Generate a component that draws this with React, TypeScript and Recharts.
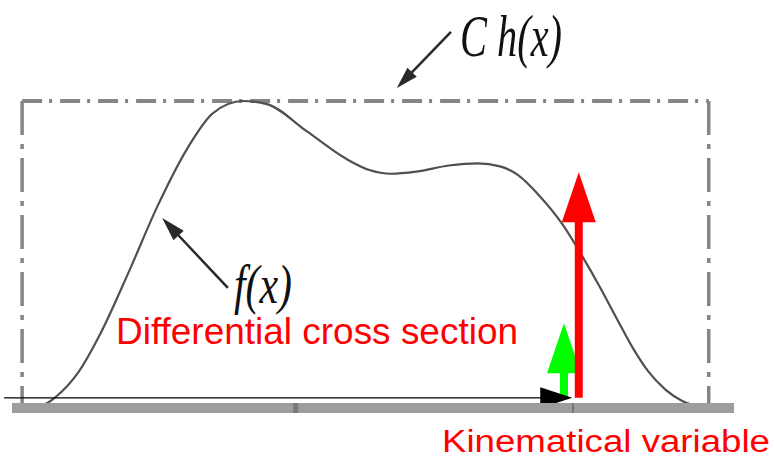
import React from "react";
import { ComposedChart, Line, XAxis, YAxis, ReferenceLine } from "recharts";

// f(x): x in % of the axis, height relative to the envelope C h(x)
const curveX = [1.5, 4.6, 6.0, 9.3, 12.2, 16.3, 20.2, 24.4, 27.8, 32.0, 35.3, 40.9, 46.4, 49.5, 52.5, 56.0, 60.5, 64.5, 67.6, 70.0, 73.1, 76.2, 79.1, 81.4, 83.9, 86.0, 88.1, 90.5, 92.9, 96.0];
const curveF = [0, 0.013, 0.035, 0.12, 0.24, 0.45, 0.66, 0.85, 0.96, 1.0, 0.99, 0.9, 0.81, 0.775, 0.763, 0.77, 0.79, 0.797, 0.787, 0.76, 0.69, 0.6, 0.49, 0.395, 0.285, 0.195, 0.12, 0.06, 0.022, 0];

// envelope C h(x): flat box
const envelopeX = [1.4, 96.5];
const envelopeC = 1;

// axis ticks
const axisTicks = [39.3, 77.7];

// sampled point: proposal (red) and accepted (green) heights
const sampleX = 78.5;
const acceptX = 76.45;
const proposalHeight = 0.768;
const acceptHeight = 0.276;
const arrowFloor = 0.033;
const kinematicArrow = [-1.1, 77.6];

// label pointers
const envelopePointer = [{ x: 60.8, y: 1.225 }, { x: 53.3, y: 1.042 }];
const curvePointer = [{ x: 29.9, y: 0.391 }, { x: 20.8, y: 0.619 }];

const data = curveX.map((x, i) => ({ x, f: curveF[i] }));

function arrow(color: string, shaft: number, headLen: number, headW: number) {
  return (p: any) => {
    const { x1, y1, x2, y2 } = p;
    if ([x1, y1, x2, y2].some((v) => typeof v !== "number" || isNaN(v))) return <g />;
    const dx = x2 - x1;
    const dy = y2 - y1;
    const len = Math.hypot(dx, dy) || 1;
    const ux = dx / len;
    const uy = dy / len;
    const bx = x2 - ux * headLen;
    const by = y2 - uy * headLen;
    const nx = -uy * (headW / 2);
    const ny = ux * (headW / 2);
    return (
      <g>
        <line x1={x1} y1={y1} x2={bx + ux} y2={by + uy} stroke={color} strokeWidth={shaft} />
        <polygon points={`${x2},${y2} ${bx + nx},${by + ny} ${bx - nx},${by - ny}`} fill={color} />
      </g>
    );
  };
}

const AxisTick = (props: any) => {
  const { x, y, index } = props;
  const w = index === 0 ? 5 : 2;
  return <rect x={x - w / 2} y={y - 5} width={w} height={10} fill="#7a7a7a" />;
};

export default function App() {
  return (
    <div style={{ position: "absolute", left: 0, top: 0, width: 774, height: 461, background: "#fff" }}>
      <ComposedChart width={774} height={461} data={data} margin={{ top: 101, right: 40, left: 12, bottom: 33 }}>
        <XAxis
          type="number"
          dataKey="x"
          domain={[0, 100]}
          ticks={axisTicks}
          interval={0}
          height={20}
          axisLine={{ stroke: "#9d9d9d", strokeWidth: 10 }}
          tickLine={false}
          tickSize={0}
          tickMargin={0}
          tick={<AxisTick />}
        />
        <YAxis type="number" domain={[0, 1]} hide />

        {/* envelope box */}
        <ReferenceLine
          segment={[{ x: envelopeX[0], y: envelopeC }, { x: envelopeX[1], y: envelopeC }]}
          stroke="#858585"
          strokeWidth={4}
          strokeDasharray="20 7 3 8"
          ifOverflow="visible"
        />
        <ReferenceLine
          segment={[{ x: envelopeX[0], y: envelopeC }, { x: envelopeX[0], y: 0 }]}
          stroke="#858585"
          strokeWidth={3.5}
          strokeDasharray="34 9 5 9"
          ifOverflow="visible"
        />
        <ReferenceLine
          segment={[{ x: envelopeX[1], y: envelopeC }, { x: envelopeX[1], y: 0 }]}
          stroke="#858585"
          strokeWidth={3.5}
          strokeDasharray="34 9 5 9"
          ifOverflow="visible"
        />

        <Line type="monotone" dataKey="f" stroke="#505050" strokeWidth={2.2} dot={false} activeDot={false} isAnimationActive={false} />

        {/* arrows */}
        <ReferenceLine
          segment={[{ x: acceptX, y: arrowFloor }, { x: acceptX, y: acceptHeight }]}
          ifOverflow="visible"
          shape={arrow("#00ff00", 8, 50, 34)}
        />
        <ReferenceLine
          segment={[{ x: kinematicArrow[0], y: arrowFloor }, { x: kinematicArrow[1], y: arrowFloor }]}
          ifOverflow="visible"
          shape={arrow("#000000", 1.3, 32, 21)}
        />
        <ReferenceLine
          segment={[{ x: sampleX, y: arrowFloor }, { x: sampleX, y: proposalHeight }]}
          ifOverflow="visible"
          shape={arrow("#ff0000", 8, 50, 34)}
        />
        <ReferenceLine segment={envelopePointer} ifOverflow="visible" shape={arrow("#2a2a2a", 2.5, 22, 13)} />
        <ReferenceLine segment={curvePointer} ifOverflow="visible" shape={arrow("#2a2a2a", 2.5, 24, 14)} />
      </ComposedChart>

      <svg width={774} height={461} style={{ position: "absolute", left: 0, top: 0, pointerEvents: "none" }}>
        <text x={460} y={56} fontFamily="'Liberation Serif', serif" fontStyle="italic" fontSize={60} fill="#111" textLength={102} lengthAdjust="spacingAndGlyphs">
          C h(x)
        </text>
        <text x={234} y={303} fontFamily="'Liberation Serif', serif" fontStyle="italic" fontSize={55} fill="#111" textLength={58} lengthAdjust="spacingAndGlyphs">
          f(x)
        </text>
        <text x={116} y={344} fontFamily="'Liberation Sans', Arial, sans-serif" fontSize={36} fill="#ff0000" textLength={402} lengthAdjust="spacingAndGlyphs">
          Differential cross section
        </text>
        <text x={442} y={452} fontFamily="'Liberation Sans', Arial, sans-serif" fontSize={31} fill="#ff0000" textLength={328} lengthAdjust="spacingAndGlyphs">
          Kinematical variable
        </text>
      </svg>
    </div>
  );
}
